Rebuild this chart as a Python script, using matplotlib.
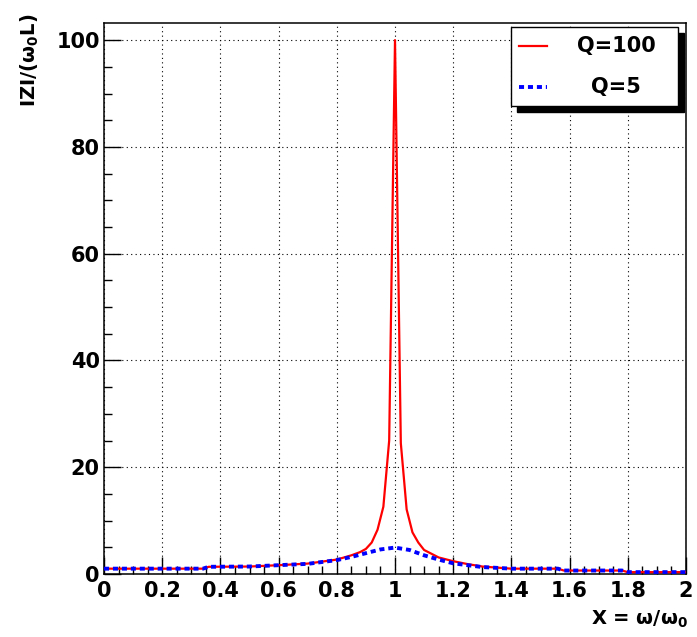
import matplotlib
matplotlib.use("Agg")
import matplotlib.pyplot as plt
from matplotlib.lines import Line2D
from matplotlib.patches import Rectangle
from matplotlib.ticker import MultipleLocator

plt.rcParams.update({
    "font.family": "DejaVu Sans",
    "font.weight": "bold",
    "mathtext.fontset": "custom",
    "mathtext.rm": "DejaVu Sans:bold",
    "mathtext.it": "DejaVu Sans:bold",
    "mathtext.default": "rm",
})

# values
x_q100 = [0, 0.1, 0.2, 0.34, 0.36, 0.5, 0.6, 0.7, 0.8, 0.85, 0.88, 0.9, 0.92,
          0.94, 0.96, 0.98, 1.0, 1.02, 1.04, 1.06, 1.08, 1.1, 1.15, 1.2, 1.25,
          1.3, 1.4, 1.56, 1.58, 1.78, 1.8, 2.0]
y_q100 = [1.0, 1.0, 1.0, 1.0, 1.35, 1.4, 1.65, 1.95, 2.7, 3.5, 4.1, 4.7, 5.9,
          8.3, 12.6, 25.0, 100.0, 24.5, 12.1, 7.8, 5.9, 4.5, 3.1, 2.4, 1.85,
          1.4, 1.0, 1.0, 0.65, 0.65, 0.35, 0.35]

x_q5 = [0, 0.34, 0.36, 0.5, 0.6, 0.7, 0.8, 0.85, 0.9, 0.95, 1.0, 1.05, 1.1,
        1.15, 1.2, 1.3, 1.4, 1.56, 1.58, 1.78, 1.8, 2.0]
y_q5 = [1.0, 1.0, 1.35, 1.4, 1.65, 1.9, 2.6, 3.2, 3.9, 4.6, 4.95, 4.5, 3.5,
        2.7, 2.0, 1.3, 1.0, 1.0, 0.65, 0.65, 0.35, 0.35]

labels = ["Q=100", "Q=5"]

fig = plt.figure(figsize=(6.97, 6.37), dpi=100)
ax = fig.add_axes([104/697, 63/637, 582/697, 551.5/637])

ax.plot(x_q100, y_q100, color="#ff0000", lw=1.6, zorder=3)
ax.plot(x_q5, y_q5, color="#0000ff", lw=2.8, linestyle=(0, (1.3, 1.0)), zorder=3)

ax.set_xlim(0, 2)
ax.set_ylim(0, 103.3)
ax.xaxis.set_major_locator(MultipleLocator(0.2))
ax.xaxis.set_minor_locator(MultipleLocator(0.05))
ax.yaxis.set_major_locator(MultipleLocator(20))
ax.yaxis.set_minor_locator(MultipleLocator(5))
ax.set_xticklabels([f"{v:g}" for v in ax.get_xticks()])
ax.tick_params(which="both", direction="in", top=False, right=False,
               labelsize=15, width=1)
ax.tick_params(which="major", length=12)
ax.tick_params(which="minor", length=5.5)
ax.tick_params(axis="x", pad=5)
ax.tick_params(axis="y", pad=3)
ax.grid(True, which="major", color="black", lw=0.8, linestyle=(0, (1, 3)))
for s in ax.spines.values():
    s.set_linewidth(1.1)

fig.text(30/697, 1 - 13/637, "IZI/(ω$_0$L)", rotation=90, ha="center",
         va="top", fontsize=14, fontweight="bold")
fig.text(688/697, 1 - 625/637, "X = ω/ω$_0$", ha="right", va="baseline",
         fontsize=14, fontweight="bold")

# legend box with black shadow (ROOT style)
bx0, bx1 = 0.699, 0.986
by0, by1 = 0.8486, 0.9924
dx, dy = 6/582, 6/551.5
ax.add_patch(Rectangle((bx0 + dx, by0 - dy), bx1 - bx0, by1 - by0,
                       transform=ax.transAxes, facecolor="black",
                       edgecolor="black", zorder=5, clip_on=False))
ax.add_patch(Rectangle((bx0, by0), bx1 - bx0, by1 - by0,
                       transform=ax.transAxes, facecolor="white",
                       edgecolor="black", lw=1, zorder=6, clip_on=False))
ax.add_line(Line2D([0.713, 0.761], [0.957, 0.957], transform=ax.transAxes,
                   color="#ff0000", lw=1.6, zorder=7))
ax.add_line(Line2D([0.713, 0.761], [0.8836, 0.8836], transform=ax.transAxes,
                   color="#0000ff", lw=2.8, linestyle=(0, (1.3, 1.0)), zorder=7))
ax.text(0.88, 0.957, labels[0], transform=ax.transAxes, ha="center",
        va="center", fontsize=15, fontweight="bold", zorder=8)
ax.text(0.88, 0.8836, labels[1], transform=ax.transAxes, ha="center",
        va="center", fontsize=15, fontweight="bold", zorder=8)

fig.savefig("out.png", dpi=100)
